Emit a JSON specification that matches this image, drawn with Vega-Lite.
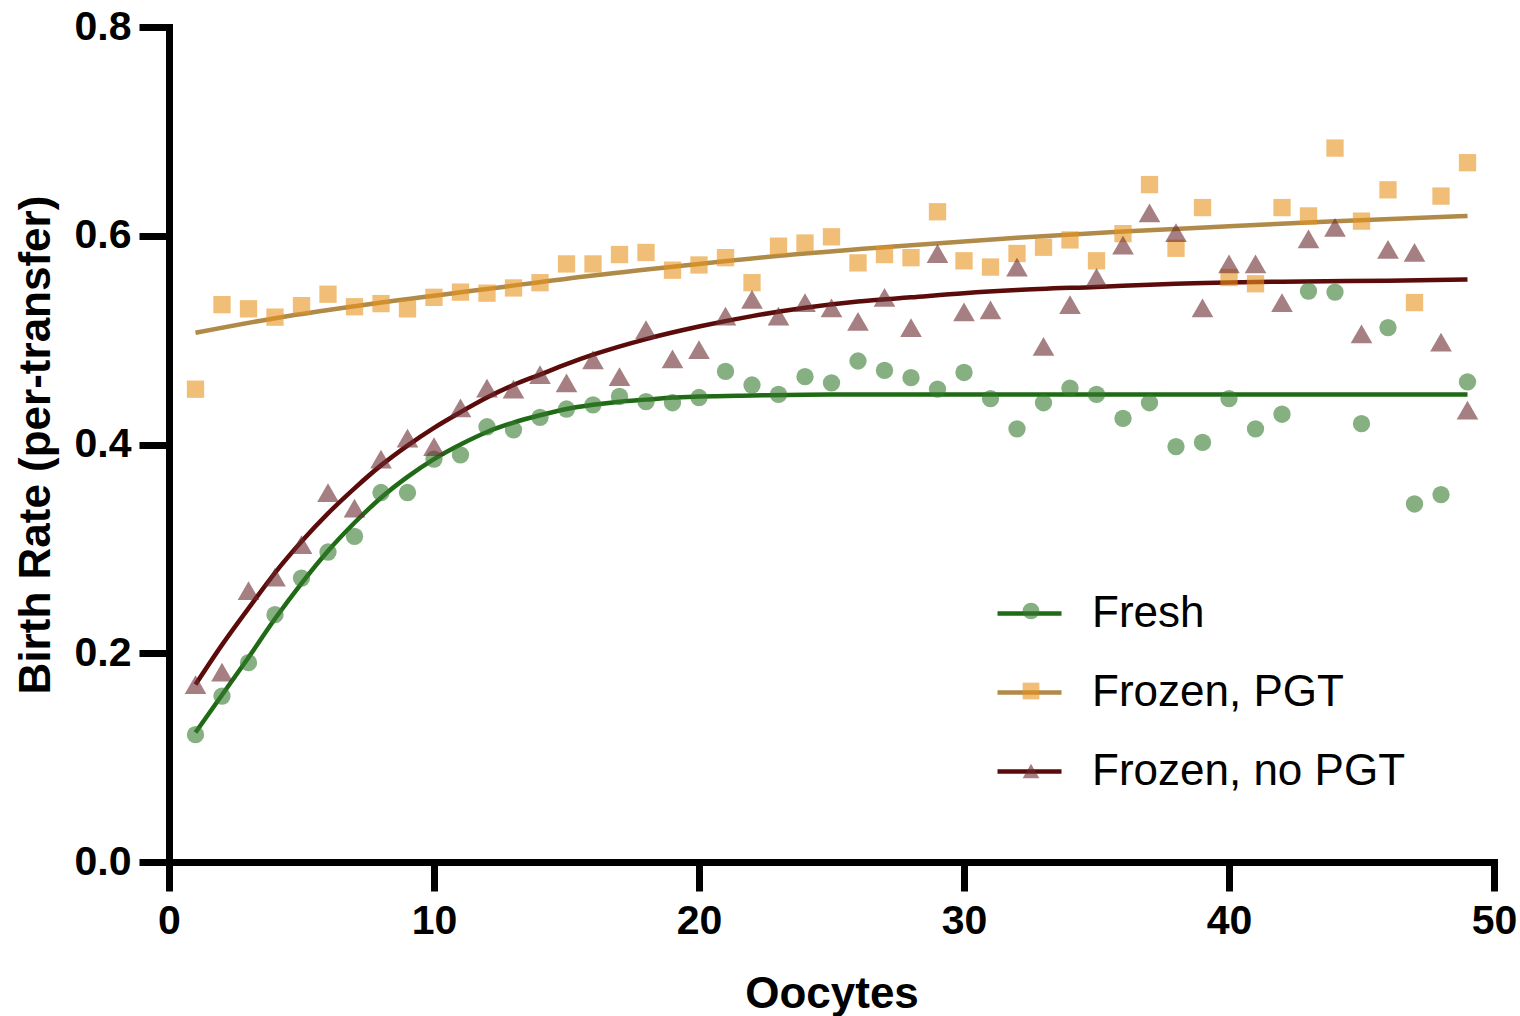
{
  "$schema": "https://vega.github.io/schema/vega-lite/v6.json",
  "width": 1325,
  "height": 835,
  "autosize": {"type": "none"},
  "padding": {"left": 169, "top": 27, "right": 26, "bottom": 154},
  "background": "white",
  "config": {"view": {"stroke": null}, "font": "Liberation Sans"},
  "datasets": {
    "points": [
      {"oocytes": 1, "rate": 0.122, "series": "Fresh"},
      {"oocytes": 2, "rate": 0.159, "series": "Fresh"},
      {"oocytes": 3, "rate": 0.191, "series": "Fresh"},
      {"oocytes": 4, "rate": 0.237, "series": "Fresh"},
      {"oocytes": 5, "rate": 0.272, "series": "Fresh"},
      {"oocytes": 6, "rate": 0.297, "series": "Fresh"},
      {"oocytes": 7, "rate": 0.312, "series": "Fresh"},
      {"oocytes": 8, "rate": 0.354, "series": "Fresh"},
      {"oocytes": 9, "rate": 0.354, "series": "Fresh"},
      {"oocytes": 10, "rate": 0.386, "series": "Fresh"},
      {"oocytes": 11, "rate": 0.390, "series": "Fresh"},
      {"oocytes": 12, "rate": 0.417, "series": "Fresh"},
      {"oocytes": 13, "rate": 0.414, "series": "Fresh"},
      {"oocytes": 14, "rate": 0.426, "series": "Fresh"},
      {"oocytes": 15, "rate": 0.434, "series": "Fresh"},
      {"oocytes": 16, "rate": 0.438, "series": "Fresh"},
      {"oocytes": 17, "rate": 0.446, "series": "Fresh"},
      {"oocytes": 18, "rate": 0.441, "series": "Fresh"},
      {"oocytes": 19, "rate": 0.440, "series": "Fresh"},
      {"oocytes": 20, "rate": 0.445, "series": "Fresh"},
      {"oocytes": 21, "rate": 0.470, "series": "Fresh"},
      {"oocytes": 22, "rate": 0.457, "series": "Fresh"},
      {"oocytes": 23, "rate": 0.448, "series": "Fresh"},
      {"oocytes": 24, "rate": 0.465, "series": "Fresh"},
      {"oocytes": 25, "rate": 0.459, "series": "Fresh"},
      {"oocytes": 26, "rate": 0.480, "series": "Fresh"},
      {"oocytes": 27, "rate": 0.471, "series": "Fresh"},
      {"oocytes": 28, "rate": 0.464, "series": "Fresh"},
      {"oocytes": 29, "rate": 0.453, "series": "Fresh"},
      {"oocytes": 30, "rate": 0.469, "series": "Fresh"},
      {"oocytes": 31, "rate": 0.444, "series": "Fresh"},
      {"oocytes": 32, "rate": 0.415, "series": "Fresh"},
      {"oocytes": 33, "rate": 0.440, "series": "Fresh"},
      {"oocytes": 34, "rate": 0.454, "series": "Fresh"},
      {"oocytes": 35, "rate": 0.448, "series": "Fresh"},
      {"oocytes": 36, "rate": 0.425, "series": "Fresh"},
      {"oocytes": 37, "rate": 0.440, "series": "Fresh"},
      {"oocytes": 38, "rate": 0.398, "series": "Fresh"},
      {"oocytes": 39, "rate": 0.402, "series": "Fresh"},
      {"oocytes": 40, "rate": 0.444, "series": "Fresh"},
      {"oocytes": 41, "rate": 0.415, "series": "Fresh"},
      {"oocytes": 42, "rate": 0.429, "series": "Fresh"},
      {"oocytes": 43, "rate": 0.547, "series": "Fresh"},
      {"oocytes": 44, "rate": 0.546, "series": "Fresh"},
      {"oocytes": 45, "rate": 0.420, "series": "Fresh"},
      {"oocytes": 46, "rate": 0.512, "series": "Fresh"},
      {"oocytes": 47, "rate": 0.343, "series": "Fresh"},
      {"oocytes": 48, "rate": 0.352, "series": "Fresh"},
      {"oocytes": 49, "rate": 0.460, "series": "Fresh"},
      {"oocytes": 1, "rate": 0.453, "series": "Frozen, PGT"},
      {"oocytes": 2, "rate": 0.534, "series": "Frozen, PGT"},
      {"oocytes": 3, "rate": 0.530, "series": "Frozen, PGT"},
      {"oocytes": 4, "rate": 0.522, "series": "Frozen, PGT"},
      {"oocytes": 5, "rate": 0.533, "series": "Frozen, PGT"},
      {"oocytes": 6, "rate": 0.544, "series": "Frozen, PGT"},
      {"oocytes": 7, "rate": 0.532, "series": "Frozen, PGT"},
      {"oocytes": 8, "rate": 0.535, "series": "Frozen, PGT"},
      {"oocytes": 9, "rate": 0.530, "series": "Frozen, PGT"},
      {"oocytes": 10, "rate": 0.541, "series": "Frozen, PGT"},
      {"oocytes": 11, "rate": 0.546, "series": "Frozen, PGT"},
      {"oocytes": 12, "rate": 0.545, "series": "Frozen, PGT"},
      {"oocytes": 13, "rate": 0.550, "series": "Frozen, PGT"},
      {"oocytes": 14, "rate": 0.555, "series": "Frozen, PGT"},
      {"oocytes": 15, "rate": 0.573, "series": "Frozen, PGT"},
      {"oocytes": 16, "rate": 0.573, "series": "Frozen, PGT"},
      {"oocytes": 17, "rate": 0.582, "series": "Frozen, PGT"},
      {"oocytes": 18, "rate": 0.584, "series": "Frozen, PGT"},
      {"oocytes": 19, "rate": 0.567, "series": "Frozen, PGT"},
      {"oocytes": 20, "rate": 0.572, "series": "Frozen, PGT"},
      {"oocytes": 21, "rate": 0.579, "series": "Frozen, PGT"},
      {"oocytes": 22, "rate": 0.555, "series": "Frozen, PGT"},
      {"oocytes": 23, "rate": 0.590, "series": "Frozen, PGT"},
      {"oocytes": 24, "rate": 0.593, "series": "Frozen, PGT"},
      {"oocytes": 25, "rate": 0.599, "series": "Frozen, PGT"},
      {"oocytes": 26, "rate": 0.574, "series": "Frozen, PGT"},
      {"oocytes": 27, "rate": 0.582, "series": "Frozen, PGT"},
      {"oocytes": 28, "rate": 0.579, "series": "Frozen, PGT"},
      {"oocytes": 29, "rate": 0.623, "series": "Frozen, PGT"},
      {"oocytes": 30, "rate": 0.576, "series": "Frozen, PGT"},
      {"oocytes": 31, "rate": 0.570, "series": "Frozen, PGT"},
      {"oocytes": 32, "rate": 0.583, "series": "Frozen, PGT"},
      {"oocytes": 33, "rate": 0.589, "series": "Frozen, PGT"},
      {"oocytes": 34, "rate": 0.596, "series": "Frozen, PGT"},
      {"oocytes": 35, "rate": 0.576, "series": "Frozen, PGT"},
      {"oocytes": 36, "rate": 0.602, "series": "Frozen, PGT"},
      {"oocytes": 37, "rate": 0.649, "series": "Frozen, PGT"},
      {"oocytes": 38, "rate": 0.588, "series": "Frozen, PGT"},
      {"oocytes": 39, "rate": 0.627, "series": "Frozen, PGT"},
      {"oocytes": 40, "rate": 0.560, "series": "Frozen, PGT"},
      {"oocytes": 41, "rate": 0.554, "series": "Frozen, PGT"},
      {"oocytes": 42, "rate": 0.627, "series": "Frozen, PGT"},
      {"oocytes": 43, "rate": 0.619, "series": "Frozen, PGT"},
      {"oocytes": 44, "rate": 0.684, "series": "Frozen, PGT"},
      {"oocytes": 45, "rate": 0.614, "series": "Frozen, PGT"},
      {"oocytes": 46, "rate": 0.644, "series": "Frozen, PGT"},
      {"oocytes": 47, "rate": 0.536, "series": "Frozen, PGT"},
      {"oocytes": 48, "rate": 0.638, "series": "Frozen, PGT"},
      {"oocytes": 49, "rate": 0.670, "series": "Frozen, PGT"},
      {"oocytes": 1, "rate": 0.170, "series": "Frozen, no PGT"},
      {"oocytes": 2, "rate": 0.182, "series": "Frozen, no PGT"},
      {"oocytes": 3, "rate": 0.260, "series": "Frozen, no PGT"},
      {"oocytes": 4, "rate": 0.273, "series": "Frozen, no PGT"},
      {"oocytes": 5, "rate": 0.304, "series": "Frozen, no PGT"},
      {"oocytes": 6, "rate": 0.354, "series": "Frozen, no PGT"},
      {"oocytes": 7, "rate": 0.339, "series": "Frozen, no PGT"},
      {"oocytes": 8, "rate": 0.386, "series": "Frozen, no PGT"},
      {"oocytes": 9, "rate": 0.406, "series": "Frozen, no PGT"},
      {"oocytes": 10, "rate": 0.398, "series": "Frozen, no PGT"},
      {"oocytes": 11, "rate": 0.435, "series": "Frozen, no PGT"},
      {"oocytes": 12, "rate": 0.454, "series": "Frozen, no PGT"},
      {"oocytes": 13, "rate": 0.453, "series": "Frozen, no PGT"},
      {"oocytes": 14, "rate": 0.467, "series": "Frozen, no PGT"},
      {"oocytes": 15, "rate": 0.459, "series": "Frozen, no PGT"},
      {"oocytes": 16, "rate": 0.481, "series": "Frozen, no PGT"},
      {"oocytes": 17, "rate": 0.465, "series": "Frozen, no PGT"},
      {"oocytes": 18, "rate": 0.510, "series": "Frozen, no PGT"},
      {"oocytes": 19, "rate": 0.482, "series": "Frozen, no PGT"},
      {"oocytes": 20, "rate": 0.491, "series": "Frozen, no PGT"},
      {"oocytes": 21, "rate": 0.523, "series": "Frozen, no PGT"},
      {"oocytes": 22, "rate": 0.539, "series": "Frozen, no PGT"},
      {"oocytes": 23, "rate": 0.523, "series": "Frozen, no PGT"},
      {"oocytes": 24, "rate": 0.536, "series": "Frozen, no PGT"},
      {"oocytes": 25, "rate": 0.531, "series": "Frozen, no PGT"},
      {"oocytes": 26, "rate": 0.518, "series": "Frozen, no PGT"},
      {"oocytes": 27, "rate": 0.541, "series": "Frozen, no PGT"},
      {"oocytes": 28, "rate": 0.512, "series": "Frozen, no PGT"},
      {"oocytes": 29, "rate": 0.583, "series": "Frozen, no PGT"},
      {"oocytes": 30, "rate": 0.527, "series": "Frozen, no PGT"},
      {"oocytes": 31, "rate": 0.529, "series": "Frozen, no PGT"},
      {"oocytes": 32, "rate": 0.570, "series": "Frozen, no PGT"},
      {"oocytes": 33, "rate": 0.494, "series": "Frozen, no PGT"},
      {"oocytes": 34, "rate": 0.534, "series": "Frozen, no PGT"},
      {"oocytes": 35, "rate": 0.560, "series": "Frozen, no PGT"},
      {"oocytes": 36, "rate": 0.591, "series": "Frozen, no PGT"},
      {"oocytes": 37, "rate": 0.622, "series": "Frozen, no PGT"},
      {"oocytes": 38, "rate": 0.603, "series": "Frozen, no PGT"},
      {"oocytes": 39, "rate": 0.531, "series": "Frozen, no PGT"},
      {"oocytes": 40, "rate": 0.573, "series": "Frozen, no PGT"},
      {"oocytes": 41, "rate": 0.573, "series": "Frozen, no PGT"},
      {"oocytes": 42, "rate": 0.536, "series": "Frozen, no PGT"},
      {"oocytes": 43, "rate": 0.597, "series": "Frozen, no PGT"},
      {"oocytes": 44, "rate": 0.608, "series": "Frozen, no PGT"},
      {"oocytes": 45, "rate": 0.506, "series": "Frozen, no PGT"},
      {"oocytes": 46, "rate": 0.587, "series": "Frozen, no PGT"},
      {"oocytes": 47, "rate": 0.584, "series": "Frozen, no PGT"},
      {"oocytes": 48, "rate": 0.498, "series": "Frozen, no PGT"},
      {"oocytes": 49, "rate": 0.433, "series": "Frozen, no PGT"}
    ],
    "fits": [
      {"oocytes": 1, "rate": 0.124, "series": "Fresh"},
      {"oocytes": 2, "rate": 0.160, "series": "Fresh"},
      {"oocytes": 3, "rate": 0.196, "series": "Fresh"},
      {"oocytes": 4, "rate": 0.233, "series": "Fresh"},
      {"oocytes": 5, "rate": 0.267, "series": "Fresh"},
      {"oocytes": 6, "rate": 0.298, "series": "Fresh"},
      {"oocytes": 7, "rate": 0.325, "series": "Fresh"},
      {"oocytes": 8, "rate": 0.349, "series": "Fresh"},
      {"oocytes": 9, "rate": 0.369, "series": "Fresh"},
      {"oocytes": 10, "rate": 0.386, "series": "Fresh"},
      {"oocytes": 11, "rate": 0.400, "series": "Fresh"},
      {"oocytes": 12, "rate": 0.412, "series": "Fresh"},
      {"oocytes": 13, "rate": 0.421, "series": "Fresh"},
      {"oocytes": 14, "rate": 0.428, "series": "Fresh"},
      {"oocytes": 15, "rate": 0.434, "series": "Fresh"},
      {"oocytes": 16, "rate": 0.438, "series": "Fresh"},
      {"oocytes": 17, "rate": 0.441, "series": "Fresh"},
      {"oocytes": 18, "rate": 0.443, "series": "Fresh"},
      {"oocytes": 19, "rate": 0.445, "series": "Fresh"},
      {"oocytes": 20, "rate": 0.446, "series": "Fresh"},
      {"oocytes": 22, "rate": 0.447, "series": "Fresh"},
      {"oocytes": 25, "rate": 0.448, "series": "Fresh"},
      {"oocytes": 35, "rate": 0.448, "series": "Fresh"},
      {"oocytes": 49, "rate": 0.448, "series": "Fresh"},
      {"oocytes": 1, "rate": 0.507, "series": "Frozen, PGT"},
      {"oocytes": 4, "rate": 0.521, "series": "Frozen, PGT"},
      {"oocytes": 8, "rate": 0.536, "series": "Frozen, PGT"},
      {"oocytes": 12, "rate": 0.549, "series": "Frozen, PGT"},
      {"oocytes": 16, "rate": 0.562, "series": "Frozen, PGT"},
      {"oocytes": 20, "rate": 0.573, "series": "Frozen, PGT"},
      {"oocytes": 24, "rate": 0.583, "series": "Frozen, PGT"},
      {"oocytes": 28, "rate": 0.591, "series": "Frozen, PGT"},
      {"oocytes": 32, "rate": 0.598, "series": "Frozen, PGT"},
      {"oocytes": 36, "rate": 0.604, "series": "Frozen, PGT"},
      {"oocytes": 40, "rate": 0.609, "series": "Frozen, PGT"},
      {"oocytes": 44, "rate": 0.614, "series": "Frozen, PGT"},
      {"oocytes": 49, "rate": 0.619, "series": "Frozen, PGT"},
      {"oocytes": 1, "rate": 0.170, "series": "Frozen, no PGT"},
      {"oocytes": 2, "rate": 0.208, "series": "Frozen, no PGT"},
      {"oocytes": 3, "rate": 0.243, "series": "Frozen, no PGT"},
      {"oocytes": 4, "rate": 0.277, "series": "Frozen, no PGT"},
      {"oocytes": 5, "rate": 0.307, "series": "Frozen, no PGT"},
      {"oocytes": 6, "rate": 0.334, "series": "Frozen, no PGT"},
      {"oocytes": 7, "rate": 0.358, "series": "Frozen, no PGT"},
      {"oocytes": 8, "rate": 0.380, "series": "Frozen, no PGT"},
      {"oocytes": 9, "rate": 0.399, "series": "Frozen, no PGT"},
      {"oocytes": 10, "rate": 0.416, "series": "Frozen, no PGT"},
      {"oocytes": 11, "rate": 0.431, "series": "Frozen, no PGT"},
      {"oocytes": 12, "rate": 0.445, "series": "Frozen, no PGT"},
      {"oocytes": 13, "rate": 0.457, "series": "Frozen, no PGT"},
      {"oocytes": 14, "rate": 0.467, "series": "Frozen, no PGT"},
      {"oocytes": 15, "rate": 0.477, "series": "Frozen, no PGT"},
      {"oocytes": 16, "rate": 0.486, "series": "Frozen, no PGT"},
      {"oocytes": 18, "rate": 0.501, "series": "Frozen, no PGT"},
      {"oocytes": 20, "rate": 0.513, "series": "Frozen, no PGT"},
      {"oocytes": 22, "rate": 0.523, "series": "Frozen, no PGT"},
      {"oocytes": 24, "rate": 0.531, "series": "Frozen, no PGT"},
      {"oocytes": 26, "rate": 0.537, "series": "Frozen, no PGT"},
      {"oocytes": 28, "rate": 0.541, "series": "Frozen, no PGT"},
      {"oocytes": 30, "rate": 0.545, "series": "Frozen, no PGT"},
      {"oocytes": 32, "rate": 0.548, "series": "Frozen, no PGT"},
      {"oocytes": 35, "rate": 0.551, "series": "Frozen, no PGT"},
      {"oocytes": 38, "rate": 0.554, "series": "Frozen, no PGT"},
      {"oocytes": 42, "rate": 0.556, "series": "Frozen, no PGT"},
      {"oocytes": 46, "rate": 0.557, "series": "Frozen, no PGT"},
      {"oocytes": 49, "rate": 0.558, "series": "Frozen, no PGT"}
    ]
  },
  "layer": [
    {
      "data": {"name": "fits"},
      "mark": {"type": "line", "strokeWidth": 4.5, "interpolate": "monotone"},
      "encoding": {
        "x": {
          "field": "oocytes", "type": "quantitative",
          "scale": {"domain": [0, 50], "nice": false},
          "axis": {
            "title": "Oocytes", "values": [0, 10, 20, 30, 40, 50], "grid": false,
            "domainColor": "black", "domainWidth": 7, "domainCap": "square",
            "tickColor": "black", "tickWidth": 7, "tickSize": 29,
            "labelFont": "Liberation Sans", "labelFontSize": 41, "labelFontWeight": "bold", "labelColor": "black",
            "labelPadding": 10, "labelFlush": false, "labelOverlap": false,
            "titleFont": "Liberation Sans", "titleFontSize": 44, "titleFontWeight": "bold", "titleColor": "black",
            "titlePadding": 31
          }
        },
        "y": {
          "field": "rate", "type": "quantitative",
          "scale": {"domain": [0, 0.8], "nice": false},
          "axis": {
            "title": "Birth Rate (per-transfer)", "values": [0, 0.2, 0.4, 0.6, 0.8], "format": ".1f", "grid": false,
            "domainColor": "black", "domainWidth": 7, "domainCap": "square",
            "tickColor": "black", "tickWidth": 7, "tickSize": 30,
            "labelFont": "Liberation Sans", "labelFontSize": 41, "labelFontWeight": "bold", "labelColor": "black",
            "labelPadding": 8, "labelFlush": false, "labelOverlap": false,
            "titleFont": "Liberation Sans", "titleFontSize": 44, "titleFontWeight": "bold", "titleColor": "black",
            "titlePadding": 16
          }
        },
        "stroke": {
          "field": "series", "type": "nominal",
          "scale": {"domain": ["Fresh", "Frozen, PGT", "Frozen, no PGT"], "range": ["#1f6a14", "#b08a48", "#5c0b0b"]},
          "legend": {
            "title": null, "orient": "none", "legendX": 826, "legendY": 552,
            "symbolType": "stroke", "symbolSize": 4096, "symbolStrokeWidth": 4.5,
            "labelFont": "Liberation Sans", "labelFontSize": 44, "labelColor": "black", "labelOffset": 28,
            "labelLimit": 400,
            "rowPadding": 22
          }
        }
      }
    },
    {
      "data": {"name": "points"},
      "transform": [{"filter": "datum.series !== 'Frozen, no PGT'"}],
      "mark": {"type": "point", "filled": true, "opacity": 0.6, "strokeWidth": 0, "size": 300},
      "encoding": {
        "x": {"field": "oocytes", "type": "quantitative"},
        "y": {"field": "rate", "type": "quantitative"},
        "fill": {
          "field": "series", "type": "nominal",
          "scale": {"range": ["#367a2e", "#e8921e", "#6b2a2e"]},
          "legend": {
            "title": null, "orient": "none", "legendX": 840, "legendY": 562,
            "symbolSize": 280, "symbolOpacity": 0.6, "symbolStrokeWidth": 0,
            "labelFont": "Liberation Sans", "labelFontSize": 44, "labelExpr": "''", "labelOffset": 28,
            "labelLimit": 400,
            "rowPadding": 36
          }
        },
        "shape": {
          "field": "series", "type": "nominal",
          "scale": {"range": ["circle", "square", "triangle-up"]},
          "legend": {
            "title": null, "orient": "none", "legendX": 840, "legendY": 562,
            "symbolSize": 280, "symbolOpacity": 0.6, "symbolStrokeWidth": 0,
            "labelFont": "Liberation Sans", "labelFontSize": 44, "labelExpr": "''", "labelOffset": 28,
            "labelLimit": 400,
            "rowPadding": 36
          }
        }
      }
    },
    {
      "data": {"name": "points"},
      "transform": [{"filter": "datum.series === 'Frozen, no PGT'"}],
      "mark": {"type": "point", "filled": true, "opacity": 0.6, "strokeWidth": 0, "size": 470},
      "encoding": {
        "x": {"field": "oocytes", "type": "quantitative"},
        "y": {"field": "rate", "type": "quantitative"},
        "fill": {"field": "series", "type": "nominal"},
        "shape": {"field": "series", "type": "nominal"}
      }
    }
  ]
}
